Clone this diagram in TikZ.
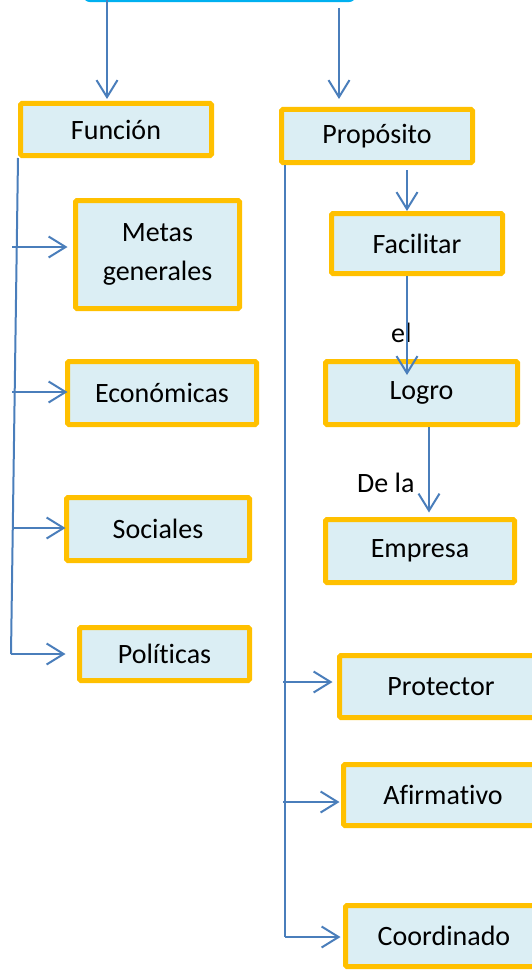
\documentclass[tikz,border=0pt]{standalone}
\usepackage{fontspec}
\setmainfont{Carlito}[Ligatures=NoCommon]
\usetikzlibrary{arrows.meta}
\definecolor{boxfill}{HTML}{DBEEF4}
\definecolor{boxline}{HTML}{FFC000}
\definecolor{conn}{HTML}{4A7EBB}
\definecolor{topline}{HTML}{00B0F0}
\begin{document}
\begin{tikzpicture}[x=1pt,y=-1pt,
  box/.style={draw=boxline, fill=boxfill, line width=5pt, rounded corners=1.5pt,
    inner sep=0pt, align=center, font=\fontsize{28}{34}\selectfont, text=black},
  arr/.style={draw=conn, line width=2pt, -{Straight Barb[length=17pt,width=21pt,line width=2pt]}},
  ln/.style={draw=conn, line width=2pt},
  lbl/.style={font=\fontsize{28}{34}\selectfont, inner sep=0pt, anchor=base west, text=black}]
\useasboundingbox (0,0) rectangle (532,971);
\clip (0,0) rectangle (532,971);
% top (cut off) box
\node[draw=topline, fill=white, line width=2.5pt, rounded corners=8pt,
  minimum width=273pt, minimum height=60pt, inner sep=0pt] (top) at (219.5,-29) {};
% left column
\node[box, minimum width=191pt, minimum height=52pt] (fun) at (116,129.5) {Función};
\node[box, minimum width=164pt, minimum height=108pt,
  font=\fontsize{28}{39}\selectfont] (met) at (157.5,254.5) {Metas\\generales};
\node[box, minimum width=189pt, minimum height=63pt] (eco) at (162,393) {Económicas};
\node[box, minimum width=183pt, minimum height=63pt] (soc) at (158,529) {Sociales};
\node[box, minimum width=170pt, minimum height=53pt] (pol) at (164.5,654) {Políticas};
% right column
\node[box, minimum width=191pt, minimum height=53pt] (pro) at (377,136) {Propósito};
\node[box, minimum width=171pt, minimum height=60pt] (fac) at (417,243.5) {Facilitar};
\node[box, minimum width=192pt, minimum height=63pt] (log) at (421.5,393) {Logro};
\node[box, minimum width=189pt, minimum height=63pt] (emp) at (420,551) {Empresa};
\node[box, minimum width=203pt, minimum height=62pt] (prt) at (441,686.5) {Protector};
\node[box, minimum width=199pt, minimum height=61pt] (afi) at (443,795) {Afirmativo};
\node[box, minimum width=197pt, minimum height=61pt] (coo) at (444,936) {Coordinado};
% labels
\node[lbl] (el) at (391,342) {el};
\node[lbl] (dela) at (357,492) {De la};
% top arrows
\coordinate (t1) at (107,0);
\coordinate (t2) at (339,8);
\draw[arr, shorten >=2pt] (t1) -- (t1 |- fun.north);
\draw[arr, shorten >=8pt] (t2) -- (t2 |- pro.north);
% left trunk
\coordinate (lt) at (18,158);
\coordinate (lb) at (11,654);
\draw[ln] (lt) -- (lb);
\draw[arr] (12,247) -- ([xshift=-5.5pt,yshift=7.5pt]met.west);
\draw[arr] (12,392) -- ([xshift=2.5pt,yshift=1pt]eco.west);
\draw[arr] (12,528) -- ([xshift=1.5pt,yshift=1pt]soc.west);
\draw[arr] (lb) -- ([xshift=-11.5pt]pol.west);
% right trunk
\coordinate (rt) at (285,165);
\coordinate (rb) at (285,937);
\draw[ln] (rt) -- (rb);
\draw[arr] (283,682) -- ([xshift=-4.5pt,yshift=4.5pt]prt.west);
\draw[arr] (283,802) -- ([xshift=-1.5pt,yshift=-7pt]afi.west);
\draw[arr] (rb) -- ([xshift=-2.5pt,yshift=-1pt]coo.west);
% chain
\coordinate (f1) at (407,170);
\draw[arr] (f1) -- (f1 |- fac.north);
\coordinate (f2) at (407,375);
\draw[arr] (f1 |- fac.south) -- (f2);
\coordinate (g1) at (429,427);
\draw[arr, shorten >=4.5pt] (g1) -- (g1 |- emp.north);
\end{tikzpicture}
\end{document}
